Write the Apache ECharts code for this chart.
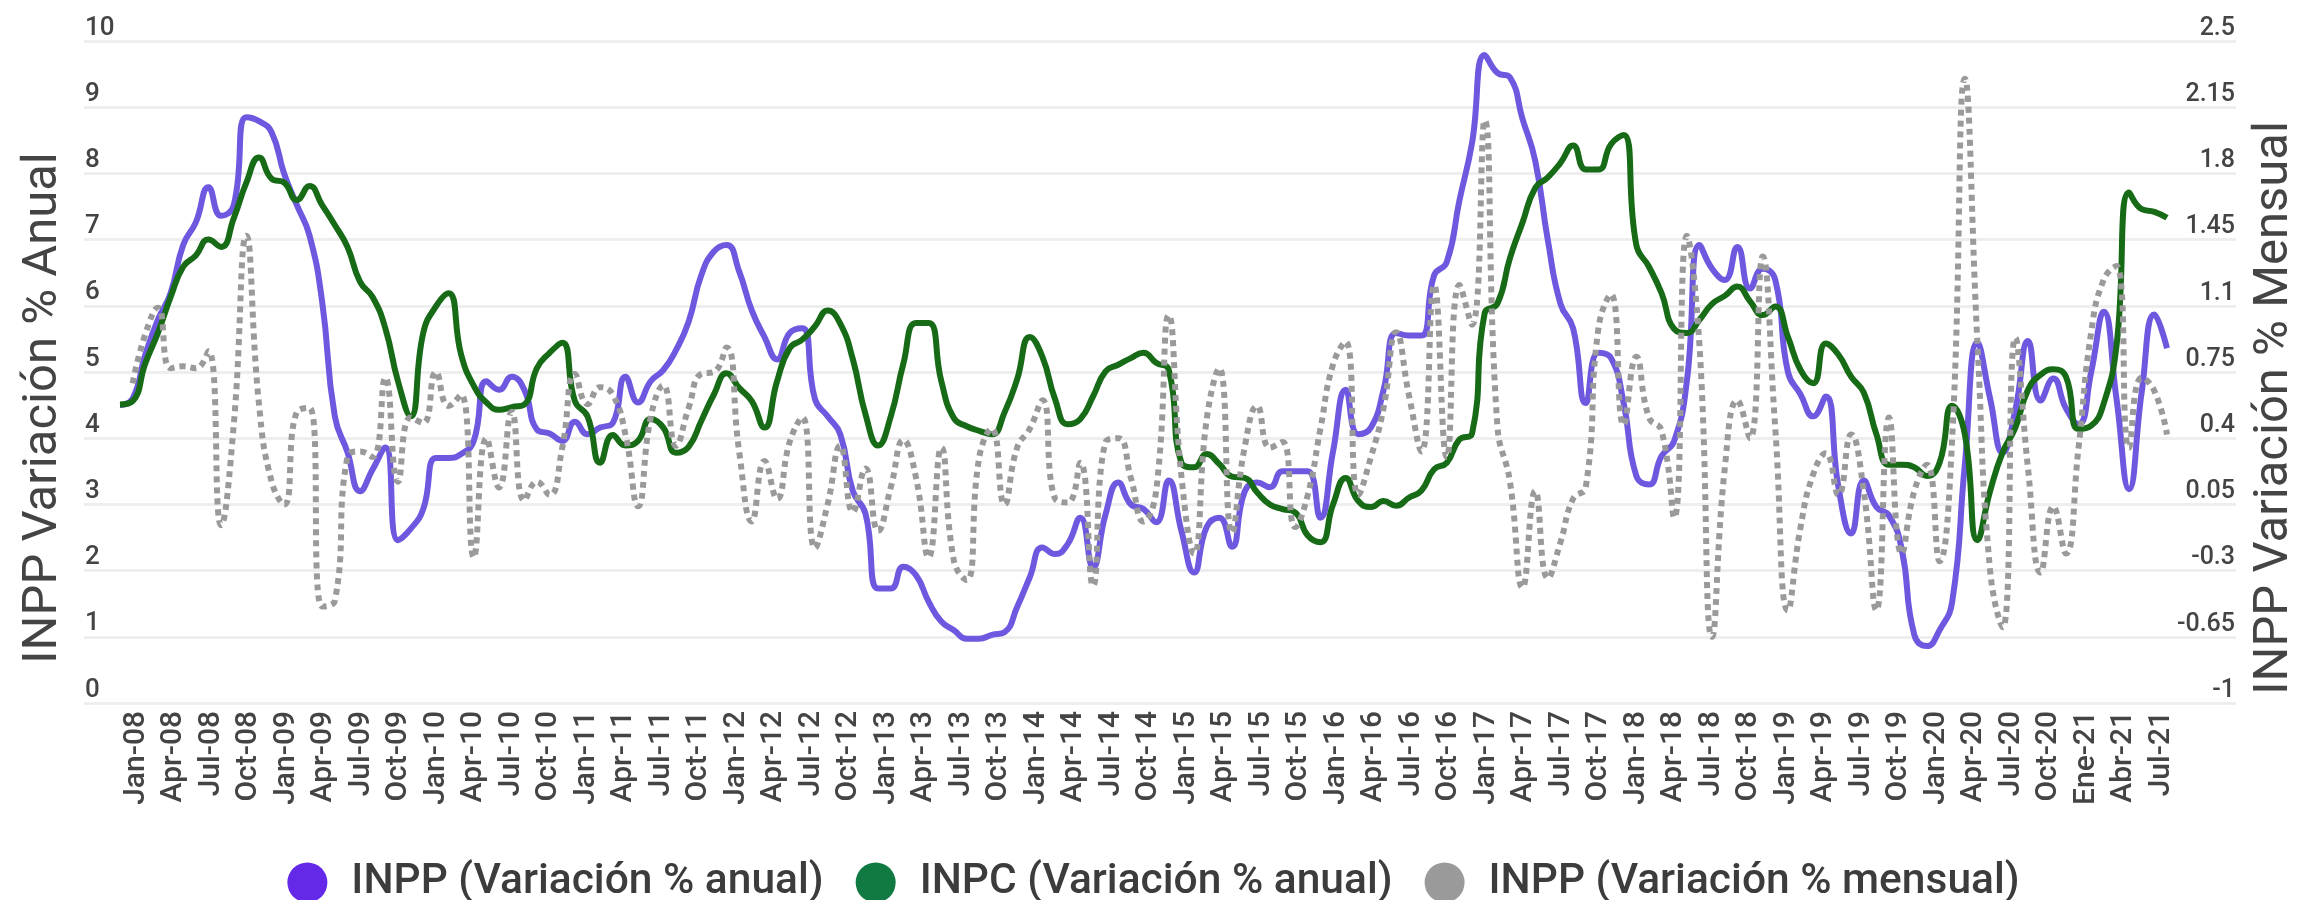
<!DOCTYPE html>
<html>
<head>
<meta charset="utf-8">
<script src="https://cdn.jsdelivr.net/npm/echarts@6/dist/echarts.min.js"></script>
<style>
  html, body { margin: 0; padding: 0; background: #fff; }
  #ch1 { width: 2307px; height: 900px; }
</style>
</head>
<body>
<div id="ch1"></div>
<script>
// months Jan-08 .. Jul-21 (2021 labels are in Spanish in the source)
var monthsEn = ['Jan', 'Feb', 'Mar', 'Apr', 'May', 'Jun', 'Jul', 'Aug', 'Sep', 'Oct', 'Nov', 'Dec'];
var months21 = ['Ene', 'Feb', 'Mar', 'Abr', 'May', 'Jun', 'Jul'];
var years = ['08', '09', '10', '11', '12', '13', '14', '15', '16', '17', '18', '19', '20'];

var leftTicks = [0, 1, 2, 3, 4, 5, 6, 7, 8, 9, 10];
var rightTicks = [-1, -0.65, -0.3, 0.05, 0.4, 0.75, 1.1, 1.45, 1.8, 2.15, 2.5];

// INPP (Variación % anual)
var inppAnual = [
  4.50, 4.60, 5.26, 5.79, 6.19, 6.92, 7.26, 7.79, 7.36, 7.52, 8.85, 8.79,
  8.62, 7.99, 7.52, 7.06, 6.06, 4.33, 3.79, 3.20, 3.53, 3.86, 2.46, 2.63,
  2.93, 3.70, 3.70, 3.76, 3.96, 4.86, 4.73, 4.93, 4.73, 4.13, 4.07, 3.96,
  4.25, 4.06, 4.16, 4.23, 4.93, 4.54, 4.86, 5.03, 5.33, 5.76, 6.46, 6.82,
  6.92, 6.52, 5.93, 5.53, 5.19, 5.59, 5.66, 4.59, 4.33, 4.06, 3.20, 2.86,
  1.73, 1.73, 2.06, 1.93, 1.53, 1.23, 1.10, 0.97, 0.97, 1.03, 1.07, 1.45,
  1.90, 2.35, 2.25, 2.40, 2.80, 2.05, 2.85, 3.33, 3.00, 2.93, 2.73, 3.36,
  2.60, 1.97, 2.66, 2.80, 2.36, 3.19, 3.33, 3.26, 3.50, 3.50, 3.50, 2.80,
  3.80, 4.73, 4.06, 4.16, 4.73, 5.59, 5.55, 5.55, 6.46, 6.66, 7.59, 8.46,
  9.79, 9.52, 9.45, 8.82, 8.19, 6.99, 6.03, 5.66, 4.53, 5.29, 5.21, 4.53,
  3.43, 3.30, 3.73, 3.96, 4.86, 6.92, 6.56, 6.39, 6.89, 6.26, 6.56, 6.39,
  5.00, 4.66, 4.33, 4.63, 3.26, 2.56, 3.36, 2.96, 2.83, 2.33, 1.03, 0.86,
  1.10, 1.53, 3.60, 5.44, 4.60, 3.78, 4.43, 5.47, 4.57, 4.90, 4.45, 4.21,
  5.00, 5.91, 4.60, 3.23, 4.70, 5.87, 5.36
];

// INPC (Variación % anual)
var inpcAnual = [
  4.51, 4.56, 5.13, 5.59, 6.13, 6.59, 6.76, 7.00, 6.89, 7.32, 7.86, 8.24,
  7.92, 7.86, 7.60, 7.81, 7.52, 7.22, 6.89, 6.36, 6.13, 5.66, 4.86, 4.33,
  5.59, 5.99, 6.19, 5.26, 4.79, 4.54, 4.43, 4.47, 4.51, 5.06, 5.29, 5.44,
  4.56, 4.33, 3.63, 4.05, 3.89, 3.96, 4.29, 4.16, 3.78, 3.87, 4.26, 4.66,
  4.98, 4.76, 4.56, 4.16, 4.86, 5.36, 5.49, 5.69, 5.93, 5.73, 5.19, 4.36,
  3.89, 4.33, 5.13, 5.74, 5.74, 4.86, 4.30, 4.18, 4.11, 4.06, 4.39, 4.89,
  5.53, 5.23, 4.59, 4.21, 4.29, 4.63, 5.01, 5.11, 5.21, 5.29, 5.14, 5.03,
  3.63, 3.56, 3.76, 3.61, 3.42, 3.40, 3.18, 3.00, 2.93, 2.88, 2.53, 2.43,
  3.00, 3.40, 3.05, 2.96, 3.05, 2.98, 3.10, 3.21, 3.53, 3.63, 3.98, 4.07,
  5.89, 6.03, 6.72, 7.26, 7.78, 7.94, 8.16, 8.42, 8.06, 8.06, 8.44, 8.58,
  6.92, 6.59, 6.19, 5.65, 5.59, 5.79, 6.03, 6.15, 6.29, 6.07, 5.86, 5.99,
  5.53, 5.03, 4.83, 5.43, 5.26, 4.93, 4.69, 4.06, 3.60, 3.60, 3.56, 3.43,
  3.63, 4.49, 4.06, 2.46, 3.20, 3.79, 4.16, 4.73, 4.96, 5.04, 4.93, 4.14,
  4.19, 4.53, 5.39, 7.71, 7.46, 7.42, 7.33
];

// INPP (Variación % mensual), eje derecho
var inppMensual = [
  null, 0.69, 0.95, 1.09, 0.77, 0.78, 0.77, 0.86, -0.06, 0.47, 1.47, 0.58,
  0.17, 0.05, 0.54, 0.56, -0.49, -0.46, 0.30, 0.33, 0.30, 0.72, 0.17, 0.51,
  0.48, 0.75, 0.57, 0.63, -0.23, 0.40, 0.14, 0.54, 0.07, 0.17, 0.10, 0.35,
  0.74, 0.58, 0.67, 0.63, 0.42, 0.04, 0.51, 0.68, 0.36, 0.56, 0.74, 0.75,
  0.88, 0.33, -0.04, 0.28, 0.08, 0.38, 0.51, -0.18, 0.05, 0.36, 0.01, 0.24,
  -0.09, 0.14, 0.39, 0.19, -0.23, 0.35, -0.25, -0.35, 0.30, 0.45, 0.05, 0.35,
  0.45, 0.60, 0.08, 0.06, 0.27, -0.38, 0.38, 0.40, 0.19, -0.04, 0.12, 1.05,
  0.20, -0.21, 0.50, 0.77, -0.10, 0.35, 0.57, 0.35, 0.38, -0.07, 0.10, 0.45,
  0.79, 0.91, 0.10, 0.30, 0.56, 0.96, 0.63, 0.33, 1.21, 0.30, 1.21, 1.00,
  2.08, 0.47, 0.17, -0.39, 0.12, -0.34, -0.15, 0.08, 0.14, 0.98, 1.16, 0.47,
  0.83, 0.51, 0.44, -0.02, 1.47, 0.89, -0.65, 0.24, 0.60, 0.40, 1.36, 0.45,
  -0.51, -0.07, 0.21, 0.32, 0.10, 0.42, 0.12, -0.51, 0.51, -0.21, 0.12, 0.26,
  -0.25, 0.40, 2.30, 0.90, -0.30, -0.60, 0.93, 0.24, -0.31, 0.04, -0.21, 0.35,
  0.96, 1.24, 1.31, 0.35, 0.72, 0.65, 0.42
];

var meses = [];
years.forEach(function (y) {
  monthsEn.forEach(function (m) { meses.push(m + '-' + y); });
});
months21.forEach(function (m) { meses.push(m + '-21'); });

window.onload = function () {
  var ch1 = echarts.init(document.getElementById('ch1'));
  var txt = '#444';
  var op1 = {
    animation: false,
    textStyle: { fontFamily: 'Roboto' },
    grid: [
      { left: 84, right: 70, top: 41, bottom: 197 },   // grid lines + y labels
      { left: 120, right: 140, top: 41, bottom: 197 }, // data
      { left: 136, right: 146, top: 41, bottom: 197 }  // month labels (a bit narrower than the data, as in source)
    ],
    legend: {
      top: 856,
      left: 'center',
      icon: 'circle',
      itemWidth: 40,
      itemHeight: 40,
      itemGap: 32,
      textStyle: { fontSize: 42.5, fontWeight: 500, color: '#3c3c3c', padding: [0, 0, 0, 19] },
      data: [
        { name: 'INPP (Variación % anual)', itemStyle: { color: '#6328E8' } },
        { name: 'INPC (Variación % anual)', itemStyle: { color: '#107A42' } },
        { name: 'INPP (Variación % mensual)', itemStyle: { color: '#9A9A9A' } }
      ]
    },
    xAxis: [
      { gridIndex: 0, type: 'value', show: false, min: 0, max: 1 },
      {
        gridIndex: 1,
        type: 'category',
        data: meses,
        boundaryGap: false,
        show: false
      },
      {
        gridIndex: 2,
        type: 'category',
        data: meses,
        boundaryGap: false,
        axisLine: { show: false },
        axisTick: { show: false },
        splitLine: { show: false },
        axisLabel: { interval: 2, rotate: 90, margin: 8, fontSize: 30, fontWeight: 500, color: txt }
      }
    ],
    yAxis: [
      {
        gridIndex: 0,
        type: 'value',
        position: 'left',
        min: leftTicks[0],
        max: leftTicks[leftTicks.length - 1],
        interval: 1,
        name: 'INPP Variación % Anual',
        nameLocation: 'middle',
        nameRotate: 90,
        nameGap: 16,
        nameTextStyle: { fontSize: 49, color: txt, padding: [0, 72, 0, 0] },
        axisLine: { show: false },
        axisTick: { show: false },
        axisLabel: {
          inside: true, margin: 1, fontSize: 26, fontWeight: 500, color: txt,
          verticalAlign: 'bottom', showMinLabel: true, showMaxLabel: true
        },
        splitLine: { lineStyle: { color: '#eeeeee', width: 3 } }
      },
      {
        gridIndex: 0,
        type: 'value',
        position: 'right',
        min: rightTicks[0],
        max: rightTicks[rightTicks.length - 1],
        interval: 0.35,
        name: 'INPP Variación % Mensual',
        nameLocation: 'middle',
        nameRotate: 90,
        nameGap: 14,
        nameTextStyle: { fontSize: 49, color: txt, padding: [0, 72, 0, 0] },
        axisLine: { show: false },
        axisTick: { show: false },
        axisLabel: {
          inside: true, margin: 1, fontSize: 25, fontWeight: 500, color: txt,
          verticalAlign: 'bottom', showMinLabel: true, showMaxLabel: true
        },
        splitLine: { show: false }
      },
      { gridIndex: 1, type: 'value', show: false, min: 0, max: 10 },
      { gridIndex: 1, type: 'value', show: false, min: -1, max: 2.5 },
      { gridIndex: 2, type: 'value', show: false, min: 0, max: 10 }
    ],
    series: [
      {
        name: 'INPP (Variación % anual)',
        type: 'line',
        xAxisIndex: 1,
        yAxisIndex: 2,
        smooth: true,
        showSymbol: false,
        lineStyle: { color: '#6E58E0', width: 6 },
        itemStyle: { color: '#6E58E0' },
        data: inppAnual
      },
      {
        name: 'INPC (Variación % anual)',
        type: 'line',
        xAxisIndex: 1,
        yAxisIndex: 2,
        smooth: true,
        showSymbol: false,
        lineStyle: { color: '#176B17', width: 6 },
        itemStyle: { color: '#176B17' },
        data: inpcAnual
      },
      {
        name: 'INPP (Variación % mensual)',
        type: 'line',
        xAxisIndex: 1,
        yAxisIndex: 3,
        smooth: true,
        showSymbol: false,
        lineStyle: { color: '#9A9A9A', width: 6, type: [6, 5] },
        itemStyle: { color: '#9A9A9A' },
        data: inppMensual
      }
    ]
  };
  ch1.setOption(op1);
};
</script>
</body>
</html>
